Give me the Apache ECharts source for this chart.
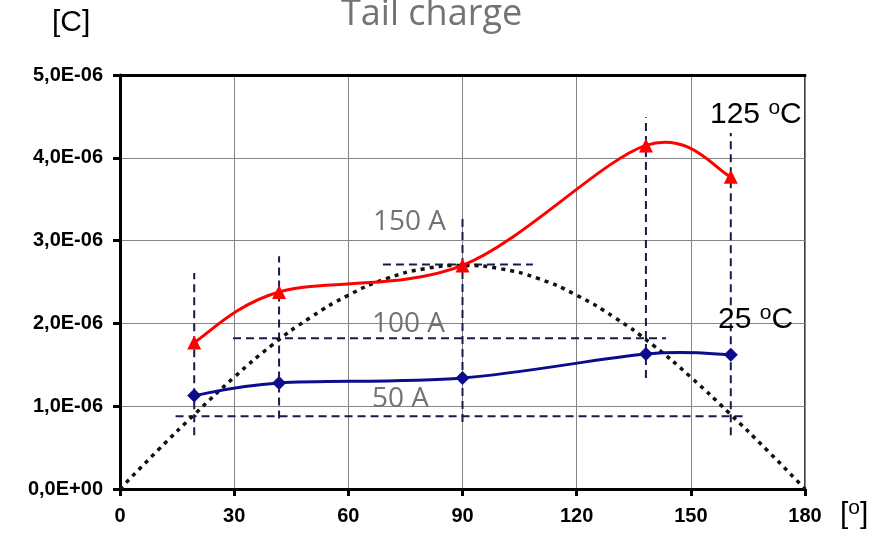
<!DOCTYPE html>
<html>
<head>
<meta charset="utf-8">
<script src="https://cdn.jsdelivr.net/npm/echarts@6/dist/echarts.min.js"></script>
<style>
  html, body { margin: 0; padding: 0; background: #fff; }
  #chart { width: 888px; height: 533px; }
</style>
</head>
<body>
<div id="chart"></div>
<script>
// Tick labels
const xTicks = [0, 30, 60, 90, 120, 150, 180];
const yTickLabels = ['0,0E+00', '1,0E-06', '2,0E-06', '3,0E-06', '4,0E-06', '5,0E-06'];

// Switching angles [deg] and measured tail charge [C]
const angleDeg = [19.5, 41.8, 90, 138.2, 160.5];
const charge125 = [1.77e-6, 2.38e-6, 2.70e-6, 4.15e-6, 3.77e-6];
const charge25 = [1.13e-6, 1.28e-6, 1.34e-6, 1.63e-6, 1.62e-6];

// Current half-wave (scaled onto the charge axis)
const waveAngle = [0, 10, 20, 30, 40, 50, 60, 70, 80, 90, 100, 110, 120, 130, 140, 150, 160, 170, 180];
const waveCharge = [0, 0.47e-6, 0.92e-6, 1.35e-6, 1.74e-6, 2.07e-6, 2.34e-6, 2.54e-6, 2.66e-6, 2.70e-6,
                    2.66e-6, 2.54e-6, 2.34e-6, 2.07e-6, 1.74e-6, 1.35e-6, 0.92e-6, 0.47e-6, 0];

// Vertical guides at each switching angle
const guideTop = [2.61e-6, 2.81e-6, 3.31e-6, 4.49e-6, 4.30e-6];
const guideBottom = [0.65e-6, 0.85e-6, 0.81e-6, 1.34e-6, 0.65e-6];

// Horizontal current-level guides
const levelNames = ['50 A', '100 A', '150 A'];
const levelValue = [0.88e-6, 1.82e-6, 2.71e-6];
const levelStart = [14.6, 29.7, 69.1];
const levelEnd = [164.8, 143.5, 108.5];

const guideStyle = { color: '#1a1a4c', width: 2, type: [8, 5] };

const guideSeries = [];
angleDeg.forEach((a, i) => {
  guideSeries.push({
    type: 'line', symbol: 'none', silent: true, z: 1,
    lineStyle: guideStyle,
    data: [[a, guideBottom[i]], [a, guideTop[i]]]
  });
});
levelValue.forEach((v, i) => {
  guideSeries.push({
    type: 'line', symbol: 'none', silent: true, z: 1,
    lineStyle: guideStyle,
    data: [[levelStart[i], v], [levelEnd[i], v]]
  });
});

// Spreadsheet-style smoothed curve: one cubic Bezier per segment,
// control points taken from the neighbouring points (Catmull-Rom, 1/6).
function smoothSeries(xs, ys, color) {
  return {
    type: 'custom', silent: true, z: 3,
    data: xs.map((x, i) => [x, ys[i]]),
    renderItem: function (params, api) {
      const i = params.dataIndex;
      const n = xs.length;
      if (i >= n - 1) return null;
      const p = j => api.coord([xs[Math.max(0, Math.min(n - 1, j))], ys[Math.max(0, Math.min(n - 1, j))]]);
      const p0 = p(i - 1), p1 = p(i), p2 = p(i + 1), p3 = p(i + 2);
      return {
        type: 'bezierCurve',
        shape: {
          x1: p1[0], y1: p1[1], x2: p2[0], y2: p2[1],
          cpx1: p1[0] + (p2[0] - p0[0]) / 6, cpy1: p1[1] + (p2[1] - p0[1]) / 6,
          cpx2: p2[0] - (p3[0] - p1[0]) / 6, cpy2: p2[1] - (p3[1] - p1[1]) / 6
        },
        style: { stroke: color, lineWidth: 3, fill: null }
      };
    }
  };
}

const chart = echarts.init(document.getElementById('chart'));
const axisFont = { fontFamily: 'Liberation Sans, Arial, sans-serif', fontSize: 20, fontWeight: 'bold', color: '#000' };
const noteFont = 'Open Sans, sans-serif';
const noteColor = '#707378';
const supRich = {
  n: { fontSize: 30, fontFamily: 'Liberation Sans, Arial', lineHeight: 34, color: '#000' },
  d: { fontSize: 21, fontFamily: 'Liberation Sans, Arial', verticalAlign: 'top', lineHeight: 21, color: '#000' }
};

chart.setOption({
  animation: false,
  backgroundColor: '#fff',
  grid: {
    left: 120, top: 75, right: 83, bottom: 44,
    show: true, borderColor: '#000', borderWidth: 1.5
  },
  xAxis: [{
    type: 'value', min: 0, max: 180, interval: 30,
    axisLine: { show: true, onZero: false, lineStyle: { color: '#000', width: 3 } },
    axisTick: { show: true, length: 7, lineStyle: { color: '#000', width: 3 } },
    axisLabel: Object.assign({ margin: 17, formatter: v => String(xTicks[Math.round(v / 30)]) }, axisFont),
    splitLine: { show: true, lineStyle: { color: '#858585', width: 1 } }
  }, {
    type: 'value', position: 'top', min: 0, max: 180, interval: 30,
    axisLine: { show: true, onZero: false, lineStyle: { color: '#000', width: 3 } },
    axisTick: { show: false }, axisLabel: { show: false }, splitLine: { show: false }
  }],
  yAxis: {
    type: 'value', min: 0, max: 5e-6, interval: 1e-6,
    axisLine: { show: true, onZero: false, lineStyle: { color: '#000', width: 3 } },
    axisTick: { show: true, length: 7, lineStyle: { color: '#000', width: 3 } },
    axisLabel: Object.assign({ margin: 17, formatter: v => yTickLabels[Math.round(v / 1e-6)] }, axisFont),
    splitLine: { show: true, lineStyle: { color: '#858585', width: 1 } }
  },
  series: guideSeries.concat([
    {
      name: 'current', type: 'line', symbol: 'none', smooth: true, silent: true, z: 2,
      lineStyle: { color: '#111', width: 3.5, type: [4, 5], cap: 'butt' },
      data: waveAngle.map((a, i) => [a, waveCharge[i]])
    },
    smoothSeries(angleDeg, charge25, '#0c0c8c'),
    smoothSeries(angleDeg, charge125, '#ff0000'),
    {
      name: '25 °C', type: 'line', z: 4,
      symbol: 'diamond', symbolSize: 14,
      itemStyle: { color: '#0c0c8c' },
      lineStyle: { width: 0, opacity: 0 },
      data: angleDeg.map((a, i) => [a, charge25[i]])
    },
    {
      name: '125 °C', type: 'line', z: 4,
      symbol: 'triangle', symbolSize: 14,
      itemStyle: { color: '#ff0000' },
      lineStyle: { width: 0, opacity: 0 },
      data: angleDeg.map((a, i) => [a, charge125[i]])
    }
  ]),
  graphic: [
    { type: 'text', x: 341, y: 15, z: 10,
      style: { text: 'Tail charge', font: '36px ' + noteFont, fill: noteColor, verticalAlign: 'middle' } },
    { type: 'text', x: 52, y: 22.5, z: 10,
      style: { text: '[C]', font: '30px Liberation Sans, Arial', fill: '#000', verticalAlign: 'middle' } },
    { type: 'text', x: 840, y: 514.5, z: 10,
      style: { text: '{n|[}{d|o}{n|]}', verticalAlign: 'middle', rich: supRich } },
    { type: 'text', x: 710, y: 114.6, z: 10,
      style: { text: '{n|125 }{d|o}{n|C}', verticalAlign: 'middle', rich: supRich } },
    { type: 'text', x: 718, y: 319.6, z: 10,
      style: { text: '{n|25 }{d|o}{n|C}', verticalAlign: 'middle', rich: supRich } },
    { type: 'text', x: 373, y: 222, z: 10,
      style: { text: levelNames[2], font: '28px ' + noteFont, fill: noteColor, verticalAlign: 'middle' } },
    { type: 'text', x: 372, y: 324, z: 10,
      style: { text: levelNames[1], font: '28px ' + noteFont, fill: noteColor, verticalAlign: 'middle' } },
    { type: 'text', x: 372, y: 399, z: 10,
      style: { text: levelNames[0], font: '28px ' + noteFont, fill: noteColor, verticalAlign: 'middle' } }
  ]
});
</script>
</body>
</html>
